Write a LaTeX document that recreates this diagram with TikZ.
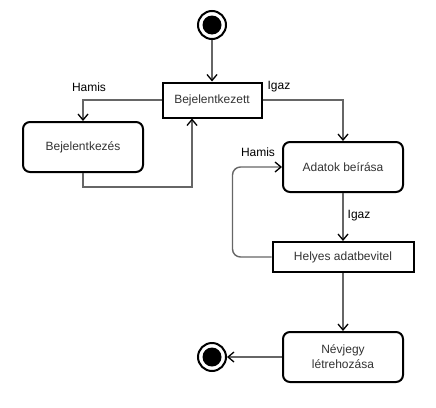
\documentclass[tikz,border=0pt]{standalone}
\usepackage{fontspec}
\setmainfont{Liberation Sans}
\usetikzlibrary{arrows.meta}
\usetikzlibrary{calc}

\begin{document}
\begin{tikzpicture}[x=1pt,y=-1pt]
        \tikzset{>={Straight Barb[length=6pt,width=10pt,line width=1.3pt,color=black]}}
        \definecolor{g-textcolor}{HTML}{333333}
        \definecolor{g-strokecolor}{HTML}{666666}
        \tikzset{every path/.style={line width=1.4pt,g-strokecolor}}
        \tikzset{state/.style={rectangle,fill=white,draw=black,text=g-textcolor,line width=2pt,minimum width=120pt,minimum height=50pt,rounded corners=7pt,align=center,font=\fontsize{12}{15}\selectfont}}
        \tikzset{check/.style={state,rounded corners=0pt,minimum height=35pt}}
        \tikzset{guard/.style={text=black,inner sep=0pt,font=\fontsize{12}{14}\selectfont}}
        \tikzset{initial/.style={circle,fill=white,draw=black,line width=2pt,minimum size=28pt,inner sep=0pt,path picture={\fill[black] (path picture bounding box.center) circle (9.5pt);}}}

        \useasboundingbox (0,0) rectangle (436,407);

        \node [initial] (n0) at (212,25) {};
        \node [check, minimum width=99pt] (n1) at (212,100) {Bejelentkezett};
        \node [state] (n2) at (83,147) {Bejelentkezés};
        \node [state] (n3) at (343,167) {Adatok beírása};
        \node [check, minimum width=141pt, minimum height=30pt] (n4) at (343,257) {Helyes adatbevitel};
        \node [state] (n5) at (343,357) {Névjegy\\létrehozása};
        \node [initial] (n6) at (212,357) {};

        \node [guard] (l0) at (89,87) {Hamis};
        \node [guard] (l1) at (279,87) {Igaz};
        \node [guard] (l2) at (258,152) {Hamis};
        \node [guard] (l3) at (359,216) {Igaz};

        \draw [->] (n0) to (n1);
        \draw [->] (n1.west) -| (n2.north);
        \draw [->] (n2.south) -- ++(0,14) -| ([xshift=-20pt]n1.south);
        \draw [->] (n1.east) -| (n3.north);
        \draw [->] (n3.south) to (n4.north);
        \draw [->, rounded corners=8pt] (n4.west) -- ++(-39,0) |- (n3.west);
        \draw [->] (n4.south) to (n5.north);
        \draw [->] (n5.west) to (n6);
    \end{tikzpicture}
\end{document}
